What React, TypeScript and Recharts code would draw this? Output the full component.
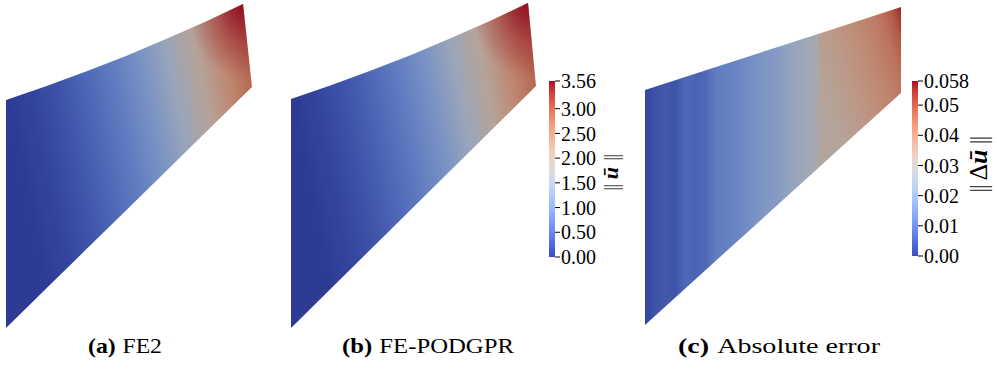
import React from 'react';
import { ComposedChart, BarChart, Area, Bar, XAxis, YAxis } from 'recharts';

// ParaView "Cool to Warm" colour table, evenly spaced over [0, 1]
const COOL_WARM: number[][] = [
  [59, 76, 192], [68, 90, 204], [77, 104, 215], [87, 117, 225], [98, 130, 234],
  [108, 142, 241], [119, 154, 247], [130, 165, 251], [141, 176, 254], [152, 185, 255],
  [163, 194, 255], [174, 201, 253], [184, 208, 249], [194, 213, 244], [204, 217, 238],
  [213, 219, 230], [221, 221, 221], [229, 216, 209], [236, 211, 197], [241, 204, 185],
  [245, 196, 173], [247, 187, 160], [247, 177, 148], [247, 166, 135], [244, 154, 123],
  [241, 141, 111], [236, 127, 99], [229, 112, 88], [222, 96, 77], [213, 80, 66],
  [203, 62, 56], [192, 40, 47], [180, 4, 38],
];

// Deformed outline, FE2 solution (model units)
const fe2X = [0, 4, 8, 12, 16, 20, 23.7, 24.6];
const fe2Top = [22.8, 24.17, 25.64, 27.21, 28.89, 30.66, 32.4, 24.1];
const fe2Bottom = [0, 3.92, 7.84, 11.76, 15.68, 19.6, 23.23, 24.1];
// |u| sampled evenly along the span of the FE2 solution, plus its peak at the loaded corner
const fe2U = [0, 0.01, 0.11, 0.28, 0.5, 0.75, 1.07, 1.5, 1.99, 2.49, 2.92];
const fe2Peak = 3.56;

// Deformed outline, FE-PODGPR surrogate (model units)
const podX = [0, 4, 8, 12, 16, 20, 23.7, 24.5];
const podTop = [22.9, 24.27, 25.74, 27.31, 28.99, 30.76, 32.5, 24.2];
const podBottom = [0, 3.95, 7.9, 11.85, 15.8, 19.76, 23.41, 24.2];
const podU = [0, 0.01, 0.12, 0.29, 0.51, 0.76, 1.08, 1.51, 2.0, 2.5, 2.93];
const podPeak = 3.55;

// Outline of the error plot, split where the error field jumps (model units)
const errLeftX = [0, 6.4, 12.8, 17.3];
const errLeftTop = [23.5, 25.58, 27.65, 29.11];
const errLeftBottom = [0, 5.8, 11.6, 15.68];
const errRightX = [17.3, 21.45, 25.6];
const errRightTop = [29.11, 30.45, 31.8];
const errRightBottom = [15.68, 19.44, 23.2];
// |Δu| sampled evenly across each part
const errLeftU = [
  0.0017, 0.0041, 0.0052, 0.0046, 0.0081, 0.007, 0.0081, 0.0122, 0.0128,
  0.0139, 0.0157, 0.0174, 0.0186, 0.0197, 0.0226, 0.0244, 0.0261, 0.0278,
];
const errRightU = [0.0313, 0.0325, 0.0339, 0.0354, 0.0368, 0.0383, 0.04, 0.0418, 0.0441, 0.0481, 0.0551];

// Colour bar ranges and ticks
const uMax = 3.56;
const uTicks = [0, 0.5, 1, 1.5, 2, 2.5, 3, 3.56];
const uTickLabels = ['0.00', '0.50', '1.00', '1.50', '2.00', '2.50', '3.00', '3.56'];
const errMax = 0.058;
const errTicks = [0, 0.01, 0.02, 0.03, 0.04, 0.05, 0.058];
const errTickLabels = ['0.00', '0.01', '0.02', '0.03', '0.04', '0.05', '0.058'];

const captions = [
  { tag: '(a)', text: 'FE2' },
  { tag: '(b)', text: 'FE-PODGPR' },
  { tag: '(c)', text: 'Absolute error' },
];

const SERIF = 'Liberation Serif, DejaVu Serif, serif';
const SHADE = 0.77; // surface lighting on the rendered mesh

function coolWarm(t: number): number[] {
  const x = Math.min(1, Math.max(0, t)) * (COOL_WARM.length - 1);
  const i = Math.min(COOL_WARM.length - 2, Math.floor(x));
  const f = x - i;
  return COOL_WARM[i].map((c, k) => c + (COOL_WARM[i + 1][k] - c) * f);
}

const rgb = (c: number[], s = 1) =>
  `rgb(${Math.round(c[0] * s)},${Math.round(c[1] * s)},${Math.round(c[2] * s)})`;

const outline = (xs: number[], top: number[], bottom: number[]) =>
  xs.map((x, i) => ({ x, span: [bottom[i], top[i]], peakSpan: [bottom[i], top[i]] }));

type Dir = { x1: number; y1: number; x2: number; y2: number };
type Peak = { value: number; cx: number; cy: number; r: number };

function Field(props: {
  id: string; xs: number[]; hi: number[]; lo: number[]; values: number[];
  vmax: number; dir: Dir; left: number; top: number; peak?: Peak;
}) {
  const { id, xs, hi, lo, values, vmax, dir, left, top, peak } = props;
  const data = outline(xs, hi, lo);
  const peakColor = peak ? rgb(coolWarm(peak.value / vmax), SHADE) : '';
  return (
    <div style={{ position: 'absolute', left, top }}>
      <ComposedChart width={280} height={350} data={data} margin={{ top: 0, right: 0, bottom: 0, left: 0 }}>
        <defs>
          <linearGradient id={id} x1={dir.x1} y1={dir.y1} x2={dir.x2} y2={dir.y2}>
            {values.map((v, i) => (
              <stop key={i} offset={i / (values.length - 1)} stopColor={rgb(coolWarm(v / vmax), SHADE)} />
            ))}
          </linearGradient>
          {peak && (
            <radialGradient id={`${id}-peak`} cx={peak.cx} cy={peak.cy} r={peak.r}>
              <stop offset={0} stopColor={peakColor} stopOpacity={0.88} />
              <stop offset={0.5} stopColor={peakColor} stopOpacity={0.36} />
              <stop offset={1} stopColor={peakColor} stopOpacity={0} />
            </radialGradient>
          )}
        </defs>
        <XAxis type="number" dataKey="x" domain={[-1, 27]} hide allowDataOverflow />
        <YAxis type="number" domain={[-1, 34]} hide allowDataOverflow />
        <Area
          type="linear"
          dataKey="span"
          stroke="none"
          fill={`url(#${id})`}
          fillOpacity={1}
          dot={false}
          activeDot={false}
          isAnimationActive={false}
        />
        {peak && (
          <Area
            type="linear"
            dataKey="peakSpan"
            stroke="none"
            fill={`url(#${id}-peak)`}
            fillOpacity={1}
            dot={false}
            activeDot={false}
            isAnimationActive={false}
          />
        )}
      </ComposedChart>
    </div>
  );
}

function ColorBar(props: {
  id: string; vmax: number; ticks: number[]; labels: string[]; left: number;
  top: number; bottomPad: number;
}) {
  const { id, vmax, ticks, labels, left, top, bottomPad } = props;
  return (
    <div style={{ position: 'absolute', left, top }}>
      <BarChart
        width={66}
        height={200}
        data={[{ name: 'bar', range: [0, vmax] }]}
        margin={{ top: 11, right: 0, bottom: bottomPad, left: 0 }}
        barCategoryGap={0}
      >
        <defs>
          <linearGradient id={id} x1={0} y1={1} x2={0} y2={0}>
            {COOL_WARM.map((c, i) => (
              <stop key={i} offset={i / (COOL_WARM.length - 1)} stopColor={rgb(c)} />
            ))}
          </linearGradient>
        </defs>
        <XAxis dataKey="name" hide />
        <YAxis
          type="number"
          orientation="right"
          domain={[0, vmax]}
          ticks={ticks}
          interval={0}
          width={60}
          axisLine={false}
          tickSize={5}
          tickMargin={1}
          tickLine={{ stroke: '#000', strokeWidth: 1 }}
          tick={{ style: { fontFamily: SERIF }, fontSize: 20, fill: '#000' }}
          tickFormatter={(v: number) => labels[ticks.indexOf(v)] ?? String(v)}
        />
        <Bar dataKey="range" fill={`url(#${id})`} isAnimationActive={false} />
      </BarChart>
    </div>
  );
}

export default function App() {
  const captionX = [125, 428, 779];
  const captionW = [74, 172, 202];
  const tilt = { x1: 0, y1: 0.7, x2: 1.073, y2: 0.418 };
  return (
    <div style={{ position: 'absolute', left: 0, top: 0, width: 997, height: 373, background: '#fff', overflow: 'hidden', fontFamily: SERIF }}>
      <Field id="fieldFE2" xs={fe2X} hi={fe2Top} lo={fe2Bottom} values={fe2U} vmax={uMax}
        dir={tilt} left={-4} top={-12} peak={{ value: fe2Peak, cx: 0.965, cy: 0, r: 0.23 }} />
      <Field id="fieldPOD" xs={podX} hi={podTop} lo={podBottom} values={podU} vmax={uMax}
        dir={tilt} left={281} top={-12} peak={{ value: podPeak, cx: 0.965, cy: 0, r: 0.23 }} />
      <Field id="fieldErrL" xs={errLeftX} hi={errLeftTop} lo={errLeftBottom} values={errLeftU} vmax={errMax}
        dir={{ x1: 0, y1: 0.5, x2: 1, y2: 0.5 }} left={635} top={-15} />
      <Field id="fieldErrR" xs={errRightX} hi={errRightTop} lo={errRightBottom} values={errRightU} vmax={errMax}
        dir={{ x1: 0, y1: 0.58, x2: 1, y2: 0 }} left={635} top={-15} />
      <ColorBar id="cbU" vmax={uMax} ticks={uTicks} labels={uTickLabels} left={549} top={70} bottomPad={13} />
      <ColorBar id="cbErr" vmax={errMax} ticks={errTicks} labels={errTickLabels} left={912} top={70} bottomPad={14} />
      <svg width={997} height={373} style={{ position: 'absolute', left: 0, top: 0, pointerEvents: 'none', fontFamily: SERIF }}>
        <text
          x={610} y={173} transform="rotate(-90 610 173)" textAnchor="middle" dominantBaseline="central"
          fontSize={22} fill="#000"
        >
          <tspan fill="#444" letterSpacing={-1.5}>||</tspan>
          <tspan dx={6} fontStyle="italic" fontWeight="bold">ū</tspan>
          <tspan dx={6} fill="#444" letterSpacing={-1.5}>||</tspan>
        </text>
        <text
          x={978} y={165} transform="rotate(-90 978 165)" textAnchor="middle" dominantBaseline="central"
          fontSize={26} fill="#000"
        >
          <tspan fill="#444" letterSpacing={-1.5}>||</tspan>
          <tspan dx={5}>Δ</tspan>
          <tspan fontStyle="italic" fontWeight="bold">ū</tspan>
          <tspan dx={5} fill="#444" letterSpacing={-1.5}>||</tspan>
        </text>
        {captions.map((c, i) => (
          <text
            key={c.tag} x={captionX[i] - captionW[i] / 2} y={353} fontSize={21} fill="#000"
            textLength={captionW[i]} lengthAdjust="spacingAndGlyphs"
          >
            <tspan fontWeight="bold">{c.tag}</tspan>
            <tspan dx={6}>{c.text}</tspan>
          </text>
        ))}
      </svg>
    </div>
  );
}
